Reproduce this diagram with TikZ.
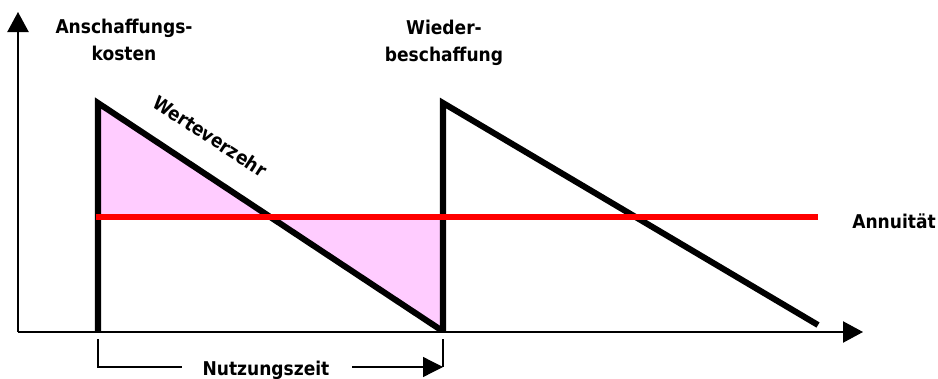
\documentclass[tikz,border=0pt]{standalone}
\usepackage{fontspec}
\setmainfont{DejaVu Sans Condensed}
\usetikzlibrary{arrows.meta}
\definecolor{fillpink}{RGB}{255,204,255}
\definecolor{annred}{RGB}{255,0,0}
\definecolor{edgeblue}{RGB}{80,100,150}

\begin{document}
\begin{tikzpicture}[
  x=0.025cm, y=-0.025cm,
  lbl/.style={font=\bfseries\fontsize{13.5}{19.2}\selectfont, align=center, inner sep=0pt},
  axis/.style={line width=1.1pt, -{Triangle[length=0.5cm, width=0.53cm]}},
  saw/.style={line width=4.3pt, line join=miter},
  annuity/.style={line width=4.3pt, draw=annred},
  dim/.style={line width=0.9pt},
]
  \useasboundingbox (0,0) rectangle (938,379);

  % points of the sawtooth
  \coordinate (origin)   at (18,332);
  \coordinate (buy)      at (98,332);
  \coordinate (buytop)   at (98,103);
  \coordinate (rebuy)    at (443,332);
  \coordinate (rebuytop) at (443,103);
  \coordinate (wornout)  at (441,330);
  \coordinate (finish)   at (818,325);
  \coordinate (buyann)   at (98,217);
  \coordinate (cross)    at (270,217);
  \coordinate (rebuyann) at (441,217);

  % area between value line and annuity
  \fill[fillpink] (buytop) -- (buyann) -- (cross) -- cycle;
  \filldraw[fill=fillpink, draw=edgeblue, line width=0.7pt] (cross) -- (rebuyann) -- (wornout) -- cycle;

  \draw[axis] (origin) -- (18,12);
  \draw[axis] (origin) -- (863,332);

  \draw[saw] (buy) -- (buytop) -- (wornout);
  \draw[saw] (rebuy) -- (rebuytop) -- (finish);
  \draw[annuity] (96,217) -- (finish |- buyann);

  \node[lbl] (cost) at (124,39.5) {Anschaffungs-\\kosten};
  \node[lbl] (replace) at (444,42.5) {Wieder-\\beschaffung};
  \node[lbl, rotate=-33] (decline) at (210,136) {Werteverzehr};
  \node[lbl] (annlabel) at (894,221) {Annuität};

  % useful life
  \node[lbl] (life) at (266,370.5) {Nutzungszeit};
  \coordinate (lifeL) at (98,367);
  \coordinate (lifeR) at (443,367);
  \draw[dim] (98,339) -- (lifeL) -- (182,367);
  \draw[dim] (443,339) -- (lifeR);
  \draw[dim, -{Triangle[length=0.5cm, width=0.5cm]}] (352,367) -- (lifeR);
\end{tikzpicture}
\end{document}
